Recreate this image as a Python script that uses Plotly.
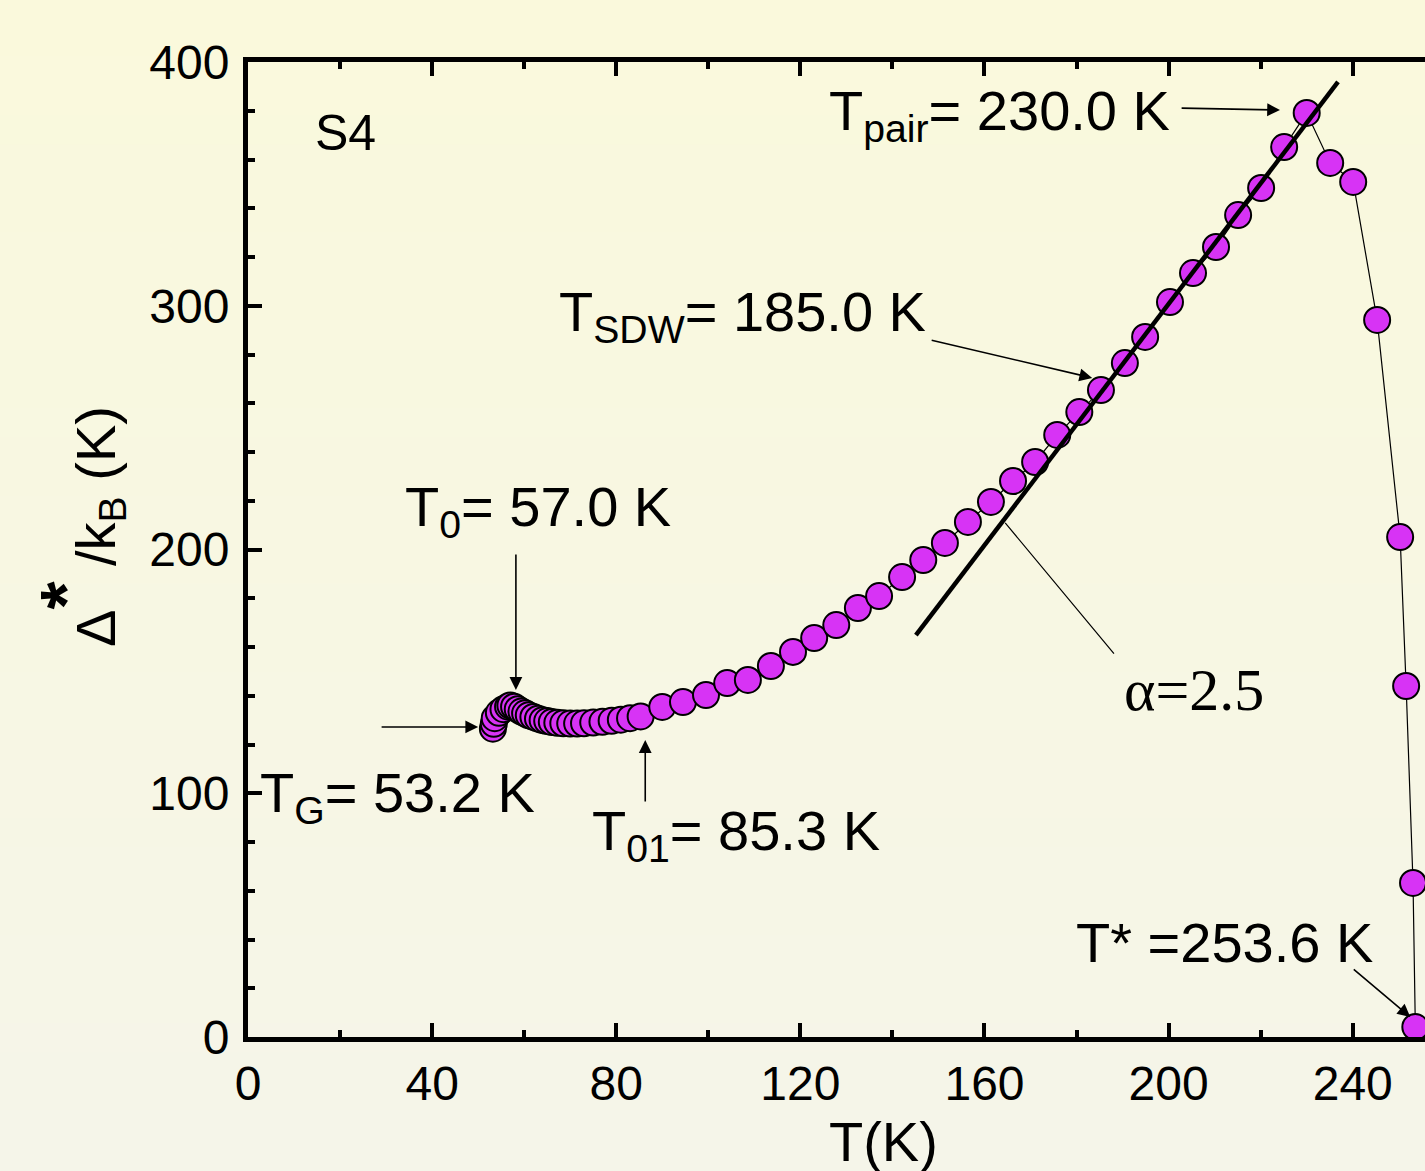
import plotly.graph_objects as go

# ---- data ----
T_K = [53.2, 53.4, 53.6, 54.5, 55.5, 56.5, 57.0, 57.8, 58.6, 59.4, 60.2, 61.0, 62.0,
       63.0, 64.0, 65.0, 66.0, 67.2, 68.5, 70.0, 71.5, 73.0, 75.0, 77.0, 79.0, 81.0,
       83.0, 85.3, 90.0, 94.5, 99.5, 104.1, 108.6, 113.6, 118.4, 123.0, 127.8, 132.5,
       137.1, 142.1, 146.7, 151.4, 156.4, 161.4, 166.2, 171.0, 175.8, 180.6, 185.3,
       190.5, 194.9, 200.3, 205.3, 210.3, 215.1, 220.1, 225.1, 230.0, 235.1, 240.1,
       245.3, 250.3, 251.6, 253.1, 253.6]
gap_K = [126.5, 128.5, 130.8, 133.0, 134.5, 135.5, 136.0, 135.5, 134.5, 133.5, 132.8,
         132.0, 131.3, 130.6, 130.0, 129.6, 129.2, 128.9, 128.7, 128.6, 128.6, 128.7,
         129.0, 129.3, 129.7, 130.2, 130.8, 131.5, 135.4, 137.4, 140.3, 145.2, 146.5,
         152.2, 158.0, 163.7, 169.0, 176.0, 180.9, 188.7, 195.7, 202.7, 211.3, 219.5,
         228.1, 235.9, 247.0, 256.4, 265.4, 276.5, 287.2, 301.5, 313.4, 324.1, 337.2,
         348.3, 365.1, 379.1, 358.6, 350.8, 294.2, 205.1, 144.0, 63.2, 4.1]

fit_T = [145.1, 236.8]
fit_gap = [164.9, 391.8]

x_ticks = [0, 40, 80, 120, 160, 200, 240]
y_ticks = [0, 100, 200, 300, 400]

SANS = "Liberation Sans, Arial, sans-serif"
SERIF = "Liberation Serif, Times New Roman, serif"

fig = go.Figure()

fig.add_trace(go.Scatter(
    x=T_K, y=gap_K, mode="lines+markers",
    line=dict(color="black", width=1.2),
    marker=dict(size=26, color="#D733F5", line=dict(color="black", width=2)),
    showlegend=False, cliponaxis=False))

fig.add_trace(go.Scatter(
    x=fit_T, y=fit_gap, mode="lines",
    line=dict(color="black", width=4.5), showlegend=False))

# background gradient
shapes = []
n = 40
y0p, y1p = -134 / 975, 1 + 62 / 975
c_top = (250, 249, 220)
c_bot = (245, 245, 233)
for i in range(n):
    f = i / (n - 1)
    c = tuple(round(c_top[k] + (c_bot[k] - c_top[k]) * f) for k in range(3))
    ya = y1p - (y1p - y0p) * i / n
    yb = y1p - (y1p - y0p) * (i + 1) / n
    shapes.append(dict(type="rect", xref="paper", yref="paper",
                       x0=-0.3, x1=1.1, y0=yb - 0.002, y1=ya + 0.002,
                       fillcolor="rgb(%d,%d,%d)" % c, line=dict(width=0),
                       layer="below"))

ann_font = dict(family=SANS, size=56, color="black")
annotations = [
    dict(x=21.1, y=371, text="S4", showarrow=False, font=dict(family=SANS, size=50, color="black"),
         xanchor="center", yanchor="middle"),
    dict(x=200.8, y=378.5, text="T<sub>pair</sub>= 230.0 K", showarrow=False, font=ann_font,
         xanchor="right", yanchor="middle"),
    dict(x=147.7, y=296, text="T<sub>SDW</sub>= 185.0 K", showarrow=False, font=ann_font,
         xanchor="right", yanchor="middle"),
    dict(x=33.7, y=216, text="T<sub>0</sub>= 57.0 K", showarrow=False, font=ann_font,
         xanchor="left", yanchor="middle"),
    dict(x=2.2, y=98.5, text="T<sub>G</sub>= 53.2 K", showarrow=False, font=ann_font,
         xanchor="left", yanchor="middle"),
    dict(x=74.3, y=83, text="T<sub>01</sub>= 85.3 K", showarrow=False, font=ann_font,
         xanchor="left", yanchor="middle"),
    dict(x=244.9, y=38.6, text="T* =253.6 K", showarrow=False, font=ann_font,
         xanchor="right", yanchor="middle"),
    dict(x=189.9, y=142.4, text="α=2.5", showarrow=False,
         font=dict(family=SERIF, size=60, color="black"),
         xanchor="left", yanchor="middle"),
    # axis titles (placed as annotations to match the reference offsets)
    dict(x=(883 - 248) / 1177, y=-(1141 - 1037) / 975, xref="paper", yref="paper",
         text="T(K)", showarrow=False, font=dict(family=SANS, size=56, color="black"),
         xanchor="center", yanchor="middle"),
    dict(x=(80 - 248) / 1177, y=(1037 - 527) / 975, xref="paper", yref="paper",
         text="Δ<sup><b><span style='font-size:72px'>*</span></b></sup> /k<sub>B</sub> (K)",
         textangle=-90, showarrow=False, font=dict(family=SANS, size=56, color="black"),
         xanchor="center", yanchor="middle"),
]

# arrows: (head T, head y, tail T, tail y, has head)
arrows = [
    (224.2, 380.3, 202.5, 381.1, True),
    (183.4, 270.4, 148.2, 286.0, True),
    (58.2, 142.4, 58.2, 198.6, True),
    (50.0, 127.2, 28.7, 127.2, True),
    (86.3, 121.8, 86.3, 96.0, True),
    (252.5, 8.2, 239.9, 28.3, True),
    (164.5, 210.9, 188.4, 156.7, False),
]
for hx, hy, tx, ty, head in arrows:
    annotations.append(dict(
        x=hx, y=hy, ax=tx, ay=ty, xref="x", yref="y", axref="x", ayref="y",
        text="", showarrow=True, arrowhead=2 if head else 0, arrowsize=1.6,
        arrowwidth=1.6 if head else 1.2, arrowcolor="black", standoff=0))

axis_common = dict(
    showline=True, linecolor="black", linewidth=5,
    ticks="inside", ticklen=14, tickwidth=4, tickcolor="black",
    showgrid=False, zeroline=False,
    tickfont=dict(family=SANS, size=48, color="black"),
)
minor = dict(dtick=20, ticks="inside", ticklen=7, tickwidth=4, tickcolor="black")

fig.update_layout(
    width=1425, height=1171,
    margin=dict(l=248, r=0, t=62, b=134),
    paper_bgcolor="rgb(247,247,226)", plot_bgcolor="rgba(0,0,0,0)",
    shapes=shapes, annotations=annotations,
    xaxis=dict(range=[0, 255.7], tickvals=x_ticks, minor=minor,
               ticklabelstandoff=0, **axis_common),
    xaxis2=dict(range=[0, 255.7], overlaying="x", side="top", tickvals=x_ticks,
                showticklabels=False, matches="x", minor=minor, **axis_common),
    yaxis=dict(range=[0, 400], tickvals=y_ticks, minor=minor,
               ticklabelstandoff=4, **axis_common),
)

# dummy trace to activate the top axis
fig.add_trace(go.Scatter(x=[None], y=[None], xaxis="x2", showlegend=False, hoverinfo="skip"))

fig.write_html("out.html", config={"displayModeBar": False},
               post_script="document.body.style.margin='0px';")
